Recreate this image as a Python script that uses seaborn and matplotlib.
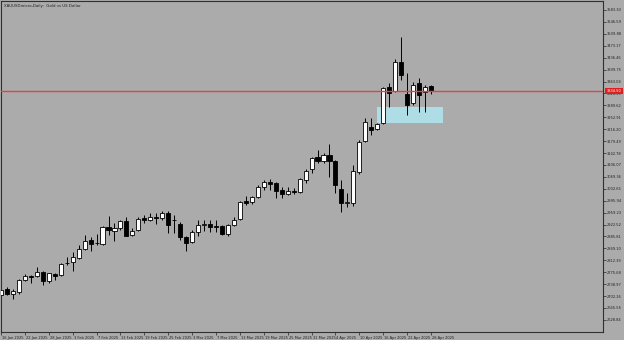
import numpy as np
import pandas as pd
import matplotlib
matplotlib.use("Agg")
import matplotlib.pyplot as plt
import matplotlib.transforms as mtransforms
import seaborn as sns

# ---- data -------------------------------------------------------------
dates = pd.bdate_range("2025-01-16", "2025-04-28")

opens = [2705.5, 2724.0, 2708.6, 2713.2, 2751.7, 2762.5, 2762.5, 2776.3, 2747.1, 2770.2,
         2767.1, 2802.5, 2805.6, 2819.5, 2847.3, 2874.9, 2864.1, 2862.6, 2913.4, 2901.1,
         2910.3, 2933.4, 2891.8, 2904.2, 2941.1, 2938.0, 2945.7, 2941.1, 2958.0, 2935.0,
         2924.3, 2882.6, 2867.2, 2898.0, 2922.6, 2924.3, 2918.8, 2918.8, 2894.2, 2921.1,
         2938.7, 2995.0, 2990.4, 3006.5, 3039.1, 3054.5, 3051.4, 3028.9, 3016.6, 3024.3,
         3023.7, 3059.7, 3092.7, 3129.6, 3119.1, 3135.8, 3117.3, 3031.3, 2988.5, 2989.9,
         3083.7, 3180.7, 3222.0, 3215.9, 3234.3, 3345.2, 3334.7, 3424.1, 3324.6, 3295.9,
         3357.5, 3331.7, 3349.2]
highs = [2727.1, 2730.1, 2724.0, 2754.8, 2770.2, 2767.1, 2791.7, 2779.4, 2774.2, 2773.3,
         2805.0, 2822.5, 2837.9, 2859.6, 2890.4, 2882.6, 2893.4, 2916.5, 2949.5, 2927.3,
         2938.0, 2945.7, 2910.3, 2945.7, 2952.0, 2956.7, 2956.7, 2962.7, 2962.7, 2952.0,
         2928.8, 2887.2, 2904.2, 2936.5, 2935.0, 2936.5, 2938.0, 2920.4, 2924.3, 2944.2,
         2996.0, 3010.4, 3010.4, 3044.3, 3059.7, 3061.9, 3054.5, 3039.1, 3039.1, 3034.1,
         3065.0, 3092.7, 3131.5, 3152.1, 3143.8, 3170.6, 3121.3, 3059.7, 3018.7, 3105.0,
         3182.9, 3249.7, 3249.7, 3236.2, 3347.1, 3359.4, 3431.5, 3501.1, 3388.3, 3362.5,
         3372.9, 3352.3, 3352.3]
lows = [2696.3, 2704.0, 2693.2, 2708.6, 2748.6, 2742.5, 2760.9, 2736.3, 2742.5, 2751.7,
        2764.0, 2797.9, 2777.9, 2816.4, 2844.1, 2839.5, 2860.3, 2861.0, 2889.0, 2873.3,
        2905.7, 2885.7, 2885.7, 2901.1, 2927.3, 2933.4, 2924.3, 2938.0, 2896.5, 2896.5,
        2876.4, 2839.5, 2864.1, 2887.2, 2901.1, 2898.0, 2898.0, 2891.1, 2887.2, 2916.5,
        2936.5, 2982.7, 2985.8, 3003.4, 3028.9, 3028.9, 3003.4, 3003.4, 3012.6, 3016.6,
        3020.6, 3051.4, 3080.3, 3111.1, 3113.0, 3067.4, 3019.7, 2962.1, 2976.5, 2979.6,
        3078.2, 3177.7, 3198.3, 3213.7, 3232.2, 3283.6, 3331.7, 3367.7, 3259.9, 3290.7,
        3270.1, 3270.1, 3324.6]
closes = [2720.9, 2708.6, 2717.8, 2751.7, 2764.0, 2760.9, 2776.3, 2747.1, 2771.7, 2764.0,
          2801.0, 2804.1, 2821.0, 2847.3, 2871.9, 2862.6, 2865.7, 2913.4, 2904.2, 2910.3,
          2933.4, 2887.2, 2902.6, 2939.6, 2938.0, 2944.2, 2941.1, 2958.0, 2921.1, 2936.5,
          2882.6, 2864.1, 2899.5, 2922.6, 2924.3, 2915.9, 2914.3, 2894.2, 2920.4, 2938.0,
          2992.9, 2989.8, 3005.8, 3039.1, 3054.5, 3047.4, 3026.7, 3016.6, 3025.8, 3023.7,
          3061.9, 3088.5, 3127.5, 3117.3, 3135.8, 3117.3, 3044.3, 2988.5, 2990.4, 3086.8,
          3177.7, 3239.3, 3213.7, 3232.2, 3342.1, 3328.6, 3424.1, 3383.1, 3290.7, 3352.3,
          3321.5, 3347.1, 3334.5]

ytick_values = [3583.30, 3546.59, 3509.88, 3473.17, 3436.46, 3399.75, 3363.04, 3326.33,
                3289.62, 3252.91, 3216.20, 3179.49, 3142.78, 3106.07, 3069.36, 3032.65,
                2995.94, 2959.23, 2922.52, 2885.81, 2849.10, 2812.39, 2775.68, 2738.97,
                2702.26, 2665.55, 2628.84]
xtick_every = 4
zone_start_bar, zone_end_bar = 63, 74
zone_low, zone_high = 3235.3, 3284.5
title_text = "XAUUSDmicro,Daily:  Gold vs US Dollar"

# ---- styling -----------------------------------------------------------
bg = "#ABABAB"
sns.set_theme(style="white", rc={"axes.facecolor": bg, "figure.facecolor": bg})
plt.rcParams["font.family"] = ["DejaVu Sans"]

df = pd.DataFrame({"date": dates[:len(opens)], "open": opens, "high": highs,
                   "low": lows, "close": closes})
df["pos"] = np.arange(len(df))
df["up"] = df["close"] >= df["open"]

fig = plt.figure(figsize=(6.24, 3.40), dpi=100)
ax = fig.add_axes([1 / 624, 1 - 332 / 340, 602 / 624, 331 / 340])
ax.set_facecolor(bg)

# supply zone
ax.add_patch(plt.Rectangle((zone_start_bar, zone_low), zone_end_bar - zone_start_bar,
                           zone_high - zone_low, facecolor="#AEDDE6", edgecolor="none",
                           zorder=1))

# wicks
ax.vlines(df["pos"], df["low"], df["high"], color="black", lw=0.7, zorder=2)
# bodies
w = 0.68
for up, col in [(True, "white"), (False, "black")]:
    sub = df[df["up"] == up]
    h = (sub["close"] - sub["open"]).to_numpy()
    h = np.where(np.abs(h) < 0.8, np.sign(h + 1e-9) * 0.8, h)
    ax.bar(sub["pos"], h, bottom=sub["open"], width=w, color=col,
           edgecolor="black", linewidth=0.6, zorder=3)

last = df["close"].iloc[-1]
ax.axhline(last, color="#E84040", lw=1.0, zorder=4)

ax.set_xlim(0.0, 100.8)
ax.set_ylim(2591.5, 3611.0)

# y axis on the right
ax.yaxis.tick_right()
shown = [v for v in ytick_values if abs(v - last) > 6]
ax.set_yticks(shown)
ax.set_yticklabels([f"{v:.2f}" for v in shown])
ax.tick_params(axis="y", which="both", right=True, left=False, length=2, width=0.5,
               pad=1, labelsize=2.6, colors="#202020", direction="out")

# x axis dates
xt = df["pos"].iloc[::xtick_every]
ax.set_xticks(xt)
ax.set_xticklabels([f"{d.day} {d.strftime('%b %Y')}" for d in df["date"].iloc[::xtick_every]],
                   ha="left")
ax.tick_params(axis="x", bottom=True, length=2, width=0.5, pad=1, labelsize=2.6,
               colors="#202020", direction="out")
offset = mtransforms.ScaledTranslation(1 / 100, 0, fig.dpi_scale_trans)
for lbl in ax.get_xticklabels():
    lbl.set_transform(lbl.get_transform() + offset)

for s in ax.spines.values():
    s.set_visible(True)
    s.set_color("#303030")
    s.set_linewidth(0.8)

# title
ax.text(3 / 602, 1 - 5 / 331, title_text, transform=ax.transAxes, fontsize=2.8,
        color="#202020", va="center", ha="left")

# price label
trans = mtransforms.blended_transform_factory(ax.transAxes, ax.transData)
ax.text(1.006, last, f"{last:.2f}", transform=trans, fontsize=2.6, color="white",
        va="center", ha="left",
        bbox=dict(boxstyle="square,pad=0.35", facecolor="#E02020", edgecolor="none"))

fig.savefig("out.png", dpi=100, facecolor=bg)
